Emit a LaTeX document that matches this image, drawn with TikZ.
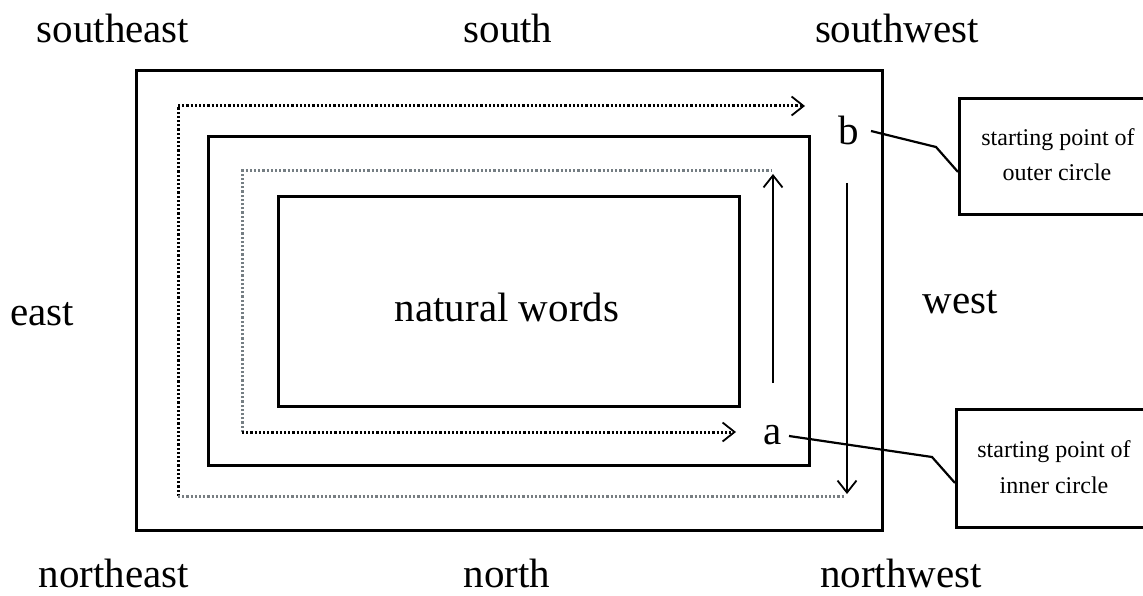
\documentclass[tikz,border=0pt]{standalone}
\usepackage{fontspec}
\setmainfont{Liberation Serif}
\usetikzlibrary{arrows.meta}
\begin{document}
\begin{tikzpicture}[x=1pt,y=-1pt,
  frame/.style={draw=black,line width=3pt},
  lab/.style={anchor=base,inner sep=0pt,font=\fontsize{41}{44}\selectfont},
  note/.style={draw=black,line width=2.6pt,inner sep=0pt},
  notetext/.style={anchor=base,inner sep=0pt,font=\fontsize{24}{28}\selectfont},
  dotline/.style={line width=3pt,dash pattern=on 2.2pt off 2pt},
  tip/.style={-{Straight Barb[length=12pt,width=19pt,line width=1.8pt]}},
  lead/.style={draw=black,line width=2.2pt}]
\useasboundingbox (0,0) rectangle (1143,596);
\clip (0,0) rectangle (1143,596);
\fill[white] (0,0) rectangle (1143,596);
% rectangles
\draw[frame] (136,71) rectangle (882,530);
\draw[frame] (208,137) rectangle (809,465);
\draw[frame] (278,197) rectangle (739,406);
% outer dotted circuit
\draw[dotline,black] (178,496) -- (178,106);
\draw[dotline,black!70!cyan!30!gray] (178,496) -- (844,496);
\draw[dotline,black,tip] (178,106) -- (805,106);
% inner dotted circuit
\draw[dotline,black!65!cyan!35!gray] (242,432) -- (242,171) -- (771,171);
\draw[dotline,black,tip] (242,432) -- (736,432);
% solid arrows
\draw[line width=1.8pt,tip] (847,183) -- (847,494);
\draw[line width=1.8pt,tip] (773,383) -- (773,174);
% labels
\node[lab] (se) at (113,43) {southeast};
\node[lab] (s) at (508,43) {south};
\node[lab] (sw) at (897,43) {southwest};
\node[lab] (e) at (42,325) {east};
\node[lab] (w) at (960,313) {west};
\node[lab] (ne) at (114,587) {northeast};
\node[lab] (n) at (507,587) {north};
\node[lab] (nw) at (901,587) {northwest};
\node[lab] (nat) at (507,321) {natural words};
\node[lab] (b) at (849,145) {b};
\node[lab] (a) at (773,444) {a};
% note boxes
\node[note,minimum width=190pt,minimum height=116pt,anchor=north west] (nb) at (958,97) {};
\node[note,minimum width=193pt,minimum height=118pt,anchor=north west] (na) at (955,408) {};
\node[notetext] (nb1) at (1058,146) {starting point of};
\node[notetext] (nb2) at (1057,181) {outer circle};
\node[notetext] (na1) at (1054,457) {starting point of};
\node[notetext] (na2) at (1054,493) {inner circle};
% leaders
\coordinate (bs) at (871,131);
\coordinate (bk) at (936,147);
\coordinate (as) at (789,436);
\coordinate (ak) at (932,457);
\draw[lead] (bs) -- (bk) -- (nb.west |- 0,172);
\draw[lead] (as) -- (ak) -- (na.west |- 0,483);
\end{tikzpicture}
\end{document}
